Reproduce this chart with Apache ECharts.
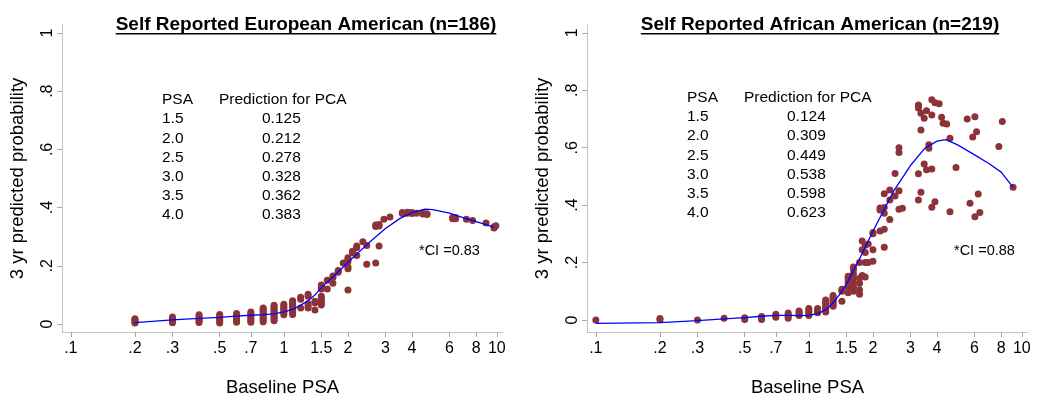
<!DOCTYPE html>
<html><head><meta charset="utf-8">
<script src="https://cdn.jsdelivr.net/npm/echarts@6/dist/echarts.min.js"></script>
<style>html,body{margin:0;padding:0;background:#fff}#c{width:1050px;height:403px}</style>
</head><body><div id="c"></div>
<script>
// ---- tick labels ----
const xTickValues = [0.1, 0.2, 0.3, 0.5, 0.7, 1, 1.5, 2, 3, 4, 6, 8, 10];
const xTickLabels = ['.1', '.2', '.3', '.5', '.7', '1', '1.5', '2', '3', '4', '6', '8', '10'];
const yTickValues = [0, 0.2, 0.4, 0.6, 0.8, 1];
const yTickLabels = ['0', '.2', '.4', '.6', '.8', '1'];

// ---- texts ----
const titles = ['Self Reported European American (n=186)', 'Self Reported African American (n=219)'];
const xName = 'Baseline PSA';
const yName = '3 yr predicted probability';
const tableHead = ['PSA', 'Prediction for PCA'];
const tablePSA = ['1.5', '2.0', '2.5', '3.0', '3.5', '4.0'];
const predEA = ['0.125', '0.212', '0.278', '0.328', '0.362', '0.383'];
const predAA = ['0.124', '0.309', '0.449', '0.538', '0.598', '0.623'];
const ciText = ['*CI =0.83', '*CI =0.88'];

// ---- European American scatter: PSA value and the stacked probabilities at it ----
const eaPsa = [0.2, 0.3, 0.4, 0.5, 0.6, 0.7, 0.8, 0.9, 1.0, 1.1, 1.2, 1.3, 1.4, 1.5, 1.6, 1.7, 1.8, 1.9, 2.0, 2.1, 2.2, 2.35, 2.45, 2.7, 2.8, 2.95, 3.15, 3.6, 3.8, 3.9, 4.0, 4.2, 4.5, 4.7, 6.2, 6.4, 7.2, 7.7, 8.9, 9.7, 9.9];
const eaProb = [
  [0.003, 0.007, 0.011, 0.015, 0.018],
  [0.004, 0.009, 0.014, 0.019, 0.024],
  [0.005, 0.010, 0.015, 0.020, 0.026, 0.032],
  [0.003, 0.009, 0.015, 0.021, 0.027, 0.033],
  [0.006, 0.012, 0.018, 0.024, 0.030, 0.036],
  [0.006, 0.012, 0.018, 0.024, 0.030, 0.036, 0.041],
  [0.008, 0.014, 0.020, 0.026, 0.032, 0.038, 0.044, 0.050, 0.055],
  [0.011, 0.017, 0.023, 0.029, 0.035, 0.041, 0.047, 0.053, 0.059, 0.064],
  [0.032, 0.038, 0.044, 0.050, 0.056, 0.062, 0.068],
  [0.033, 0.039, 0.045, 0.051, 0.057, 0.063, 0.069, 0.075, 0.080],
  [0.055, 0.085, 0.092],
  [0.055, 0.062, 0.070, 0.095, 0.102],
  [0.048, 0.073, 0.078],
  [0.065, 0.072, 0.080, 0.088, 0.095, 0.120, 0.127, 0.134],
  [0.120, 0.150],
  [0.140, 0.160, 0.165],
  [0.178, 0.184],
  [0.210],
  [0.117, 0.190, 0.196, 0.215, 0.222, 0.228],
  [0.245, 0.250],
  [0.235, 0.262, 0.268],
  [0.283],
  [0.205, 0.270],
  [0.210, 0.335, 0.340],
  [0.268, 0.337, 0.342],
  [0.360],
  [0.368],
  [0.380, 0.383],
  [0.381, 0.384],
  [0.382],
  [0.380, 0.383],
  [0.381],
  [0.378, 0.381],
  [0.376, 0.379],
  [0.362, 0.366],
  [0.362, 0.366],
  [0.360],
  [0.356],
  [0.347],
  [0.330, 0.334],
  [0.338]
];
const eaLinePsa = [0.2, 0.3, 0.4, 0.5, 0.6, 0.7, 0.8, 0.9, 1.0, 1.1, 1.2, 1.3, 1.4, 1.5, 1.75, 2.0, 2.5, 3.0, 3.5, 4.0, 4.6, 5.0, 6.0, 7.0, 8.0, 9.7];
const eaLineProb = [0.005, 0.014, 0.019, 0.023, 0.027, 0.030, 0.032, 0.035, 0.042, 0.050, 0.065, 0.080, 0.100, 0.125, 0.170, 0.212, 0.278, 0.328, 0.362, 0.383, 0.395, 0.393, 0.381, 0.365, 0.352, 0.333];

// ---- African American scatter ----
const aaPsa = [0.1, 0.2, 0.3, 0.4, 0.5, 0.6, 0.7, 0.8, 0.9, 1.0, 1.1, 1.2, 1.3, 1.43, 1.53, 1.62, 1.73, 1.78, 1.84, 1.9, 2.0, 2.16, 2.26, 2.4, 2.54, 2.65, 2.75, 3.27, 3.36, 3.48, 3.57, 3.66, 3.78, 3.91, 4.09, 4.2, 4.27, 4.44, 4.6, 4.91, 5.54, 5.71, 5.88, 6.02, 6.13, 6.24, 6.35, 7.8, 8.1, 9.1];
const aaProb = [
  [0.0],
  [0.001, 0.005],
  [0.0],
  [0.006],
  [0.002, 0.008],
  [0.002, 0.007, 0.012],
  [0.010, 0.015, 0.020],
  [0.006, 0.012, 0.018, 0.024],
  [0.016, 0.021, 0.026, 0.031],
  [0.016, 0.022, 0.028, 0.034, 0.040],
  [0.025, 0.030, 0.035, 0.040],
  [0.028, 0.034, 0.040, 0.046, 0.052, 0.058, 0.064, 0.070],
  [0.048, 0.054, 0.060, 0.066, 0.072, 0.078, 0.085],
  [0.065, 0.100, 0.107],
  [0.095, 0.115, 0.125, 0.135, 0.145, 0.152],
  [0.100, 0.115, 0.130, 0.145, 0.160, 0.175, 0.185],
  [0.090, 0.105, 0.128, 0.145, 0.200],
  [0.155, 0.245, 0.275],
  [0.150, 0.200, 0.235, 0.260],
  [0.200, 0.265],
  [0.205, 0.245, 0.300, 0.305],
  [0.310, 0.383, 0.390],
  [0.253, 0.316, 0.372, 0.392, 0.440],
  [0.350, 0.418, 0.453],
  [0.432, 0.510],
  [0.386, 0.450, 0.583, 0.600],
  [0.389],
  [0.418, 0.509, 0.738, 0.749, 0.745],
  [0.445, 0.662, 0.720],
  [0.543, 0.703],
  [0.523, 0.729],
  [0.598, 0.610],
  [0.393, 0.526, 0.714, 0.767],
  [0.412, 0.757],
  [0.753],
  [0.706],
  [0.685],
  [0.683],
  [0.377, 0.633],
  [0.531],
  [0.700],
  [0.407],
  [0.637],
  [0.360, 0.708],
  [0.656],
  [0.439],
  [0.374],
  [0.604],
  [0.691],
  [0.462]
];
const aaLinePsa = [0.1, 0.2, 0.3, 0.4, 0.5, 0.6, 0.7, 0.8, 0.9, 1.0, 1.1, 1.2, 1.3, 1.4, 1.5, 1.75, 2.0, 2.5, 3.0, 3.5, 4.0, 4.4, 5.0, 6.0, 7.0, 8.0, 9.1];
const aaLineProb = [-0.012, -0.009, -0.002, 0.004, 0.008, 0.013, 0.016, 0.016, 0.015, 0.016, 0.022, 0.035, 0.060, 0.090, 0.124, 0.220, 0.309, 0.449, 0.538, 0.598, 0.623, 0.628, 0.610, 0.575, 0.545, 0.515, 0.462];

// ---- build ----
const FONT = '"Liberation Sans", Arial, sans-serif';
const DOT = '#8b3338';
const lg = Math.log10;

function stacksToPoints(psa, probs) {
  const out = [];
  psa.forEach((x, i) => probs[i].forEach(p => out.push([lg(x), p])));
  return out;
}
function linePoints(xs, ys) { return xs.map((x, i) => [lg(x), ys[i]]); }

const xCustom = xTickValues.map(lg);
function xFmt(v) {
  for (let i = 0; i < xCustom.length; i++) if (Math.abs(xCustom[i] - v) < 1e-6) return xTickLabels[i];
  return '';
}
function yFmt(v) {
  for (let i = 0; i < yTickValues.length; i++) if (Math.abs(yTickValues[i] - v) < 1e-6) return yTickLabels[i];
  return '';
}

const grids = [
  { left: 62, top: 25, width: 441, height: 307 },
  { left: 587, top: 25, width: 441, height: 307 }
];
const yMins = [-0.0275, -0.0418];

function xAxis(gi) {
  return {
    type: 'value', gridIndex: gi, min: lg(0.0909), max: lg(10.69),
    name: xName, nameLocation: 'middle', nameGap: 46,
    nameTextStyle: { fontFamily: FONT, fontSize: 18.5, color: '#000' },
    axisLine: { onZero: false, lineStyle: { color: '#c4c4c4', width: 1 } },
    axisTick: { show: true, length: 5, customValues: xCustom, lineStyle: { color: '#a8a8a8' } },
    axisLabel: { customValues: xCustom, formatter: xFmt, margin: 9, fontFamily: FONT, fontSize: 16, color: '#000' },
    splitLine: { show: false }
  };
}
function yAxis(gi) {
  return {
    type: 'value', gridIndex: gi, min: yMins[gi], max: 1.0275,
    name: yName, nameLocation: 'middle', nameGap: 35,
    nameTextStyle: { fontFamily: FONT, fontSize: 18.5, color: '#000' },
    axisLine: { show: true, onZero: false, lineStyle: { color: '#c4c4c4', width: 1 } },
    axisTick: { show: true, length: 5, customValues: yTickValues, lineStyle: { color: '#a8a8a8' } },
    axisLabel: { customValues: yTickValues, formatter: yFmt, rotate: 90, margin: 6, fontFamily: FONT, fontSize: 16, color: '#000' },
    splitLine: { show: false }
  };
}

function scatter(gi, data) {
  return { type: 'scatter', xAxisIndex: gi, yAxisIndex: gi, data, symbol: 'circle', symbolSize: 7,
    itemStyle: { color: DOT, opacity: 1 }, z: 2, silent: true, animation: false };
}
function line(gi, data) {
  return { type: 'line', xAxisIndex: gi, yAxisIndex: gi, data, showSymbol: false, smooth: false,
    lineStyle: { color: '#0000ff', width: 1.3 }, z: 3, silent: true, animation: false };
}

// text measure for title underline
const ctx = document.createElement('canvas').getContext('2d');
function textWidth(t, font) { ctx.font = font; return ctx.measureText(t).width; }

const graphics = [];
const titleCx = [306, 820];
titles.forEach((t, i) => {
  const f = 'bold 19px ' + FONT;
  const w = textWidth(t, f);
  graphics.push({ type: 'text', style: { text: t, x: titleCx[i], y: 25, font: f, fill: '#000', align: 'center', verticalAlign: 'middle', textAlign: 'center', textVerticalAlign: 'middle' } });
  graphics.push({ type: 'rect', shape: { x: titleCx[i] - w / 2, y: 33, width: w, height: 1.6 }, style: { fill: '#000' } });
});
const tbl = [
  { x0: 162, x1: 219, xv: 262, yh: 100, dy: 19.2, vals: predEA },
  { x0: 687, x1: 744, xv: 787, yh: 98, dy: 19.1, vals: predAA }
];
const tf = '15.5px ' + FONT;
function txt(text, x, y, font) {
  return { type: 'text', style: { text, x, y, font, fill: '#000', align: 'left', verticalAlign: 'middle', textAlign: 'left', textVerticalAlign: 'middle' } };
}
tbl.forEach(t => {
  graphics.push(txt(tableHead[0], t.x0, t.yh, tf));
  graphics.push(txt(tableHead[1], t.x1, t.yh, tf));
  tablePSA.forEach((p, i) => {
    graphics.push(txt(p, t.x0, t.yh + t.dy * (i + 1), tf));
    graphics.push(txt(t.vals[i], t.xv, t.yh + t.dy * (i + 1), tf));
  });
});
graphics.push(txt(ciText[0], 419, 251, '14.5px ' + FONT));
graphics.push(txt(ciText[1], 954, 251, '14.5px ' + FONT));

const chart = echarts.init(document.getElementById('c'), null, { renderer: 'canvas' });
chart.setOption({
  backgroundColor: '#fff',
  animation: false,
  grid: grids,
  xAxis: [xAxis(0), xAxis(1)],
  yAxis: [yAxis(0), yAxis(1)],
  series: [
    scatter(0, stacksToPoints(eaPsa, eaProb)),
    line(0, linePoints(eaLinePsa, eaLineProb)),
    scatter(1, stacksToPoints(aaPsa, aaProb)),
    line(1, linePoints(aaLinePsa, aaLineProb))
  ],
  graphic: graphics
});
</script>
</body></html>
